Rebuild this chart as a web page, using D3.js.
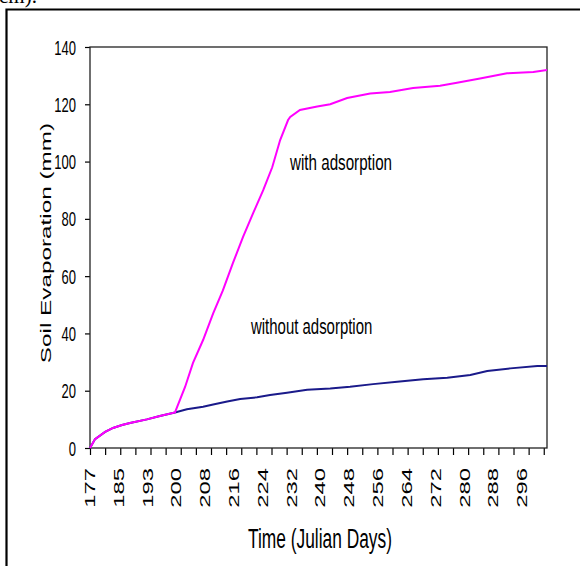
<!DOCTYPE html>
<html>
<head>
<meta charset="utf-8">
<script src="https://cdn.jsdelivr.net/npm/d3@7"></script>
<style>
  html, body { margin: 0; padding: 0; background: #fff; }
  svg { display: block; }
  text { font-family: "Liberation Sans", Arial, sans-serif; fill: #000; }
</style>
</head>
<body>
<svg id="chart" width="580" height="566"></svg>
<script>
(function () {
    'use strict';

    const WIDTH = 580;
    const HEIGHT = 566;

    // day labels on the category axis, one every 8 observations
    const dayLabels = [177, 185, 193, 200, 208, 216, 224, 232, 240, 248, 256, 264, 272, 280, 288, 296];
    const labelStep = 8;
    const tickStep = 4.2;
    const yTicks = [0, 20, 40, 60, 80, 100, 120, 140];

    // observation index, cumulative evaporation (mm)
    const shared = [
        [0, 0], [1.4, 3.1], [4.2, 5.6], [6.4, 7], [8.9, 8], [11.1, 8.7],
        [15.8, 10], [19.4, 11.2], [23.6, 12.4]
    ];
    const withAdsorption = [
        [26.4, 21.3], [28.6, 29.7], [31.4, 37.7], [34.2, 47], [36.9, 55],
        [39.7, 64.6], [42.5, 73.7], [45.3, 82], [48.1, 90], [50.6, 98],
        [52.8, 107.5], [55, 114.5], [55.6, 115.6], [58.3, 118], [63.1, 119.2],
        [66.7, 120], [71.4, 122.2], [77.8, 123.8], [83.3, 124.3], [89.7, 125.7],
        [97.2, 126.5], [101.9, 127.5], [108.3, 129], [115.8, 130.8], [123.1, 131.3],
        [126.9, 132]
    ];
    const withoutAdsorption = [
        [26.9, 13.5], [31.4, 14.4], [34.2, 15.2], [38.1, 16.2], [41.7, 17.1],
        [46.4, 17.7], [50, 18.5], [54.7, 19.3], [60.3, 20.3], [66.7, 20.8],
        [72.2, 21.4], [78.6, 22.3], [85.3, 23.1], [92.5, 24], [99.2, 24.5],
        [105.6, 25.5], [110.3, 26.9], [116.7, 27.8], [124.2, 28.6], [126.9, 28.6]
    ];

    const margin = {top: 47, right: 33, bottom: 118, left: 90};

    let svg = d3.select('#chart');

    let x = d3.scaleLinear()
        .domain([0, 126.9])
        .range([margin.left, WIDTH - margin.right]);

    let y = d3.scaleLinear()
        .domain([0, 140])
        .range([HEIGHT - margin.bottom, margin.top]);

    function drawFrame() {
        // page frame around the figure
        svg.append('path')
            .attr('d', 'M6.5,566V9.5H580')
            .attr('fill', 'none')
            .attr('stroke', '#000')
            .attr('stroke-width', 2.2);

        svg.append('text')
            .attr('x', -1)
            .attr('y', 3)
            .style('font-family', '"Liberation Serif", "Times New Roman", serif')
            .style('font-size', '21px')
            .text('cm).');
    }

    function drawAxes() {
        let yAxis = d3.axisLeft(y)
            .tickValues(yTicks)
            .tickSize(5)
            .tickFormat('');

        svg.append('g')
            .attr('transform', `translate(${margin.left},0)`)
            .call(yAxis)
            .call(g => g.select('.domain').remove())
            .call(g => g.selectAll('line').attr('stroke', '#000').attr('stroke-width', 1.2));

        let xAxis = d3.axisBottom(x)
            .tickValues(d3.range(0, 127, tickStep))
            .tickSize(7)
            .tickFormat('');

        svg.append('g')
            .attr('transform', `translate(0,${y(0)})`)
            .call(xAxis)
            .call(g => g.select('.domain').remove())
            .call(g => g.selectAll('line').attr('stroke', '#000').attr('stroke-width', 1.2));

        // plot box
        svg.append('rect')
            .attr('x', x(0))
            .attr('y', y(140))
            .attr('width', x(126.9) - x(0))
            .attr('height', y(0) - y(140))
            .attr('fill', 'none')
            .attr('stroke', '#222')
            .attr('stroke-width', 1.3);

        // y tick labels (narrow, tall glyphs as in the source)
        svg.append('g')
            .selectAll('text')
            .data(yTicks)
            .join('text')
            .attr('transform', d => `translate(76,${y(d) + 7.5}) scale(0.62,1)`)
            .attr('text-anchor', 'end')
            .style('font-size', '21px')
            .text(d => d);

        // x tick labels, rotated
        svg.append('g')
            .selectAll('text')
            .data(dayLabels)
            .join('text')
            .attr('transform', (d, i) => `translate(${x(i * labelStep) + 5},468) rotate(-90) scale(1.7,1)`)
            .attr('text-anchor', 'end')
            .style('font-size', '14px')
            .text(d => d);

        svg.append('text')
            .attr('transform', `translate(320,548) scale(0.62,1)`)
            .attr('text-anchor', 'middle')
            .style('font-size', '28px')
            .text('Time (Julian Days)');

        svg.append('text')
            .attr('transform', `translate(51,243) rotate(-90) scale(1.62,1)`)
            .attr('text-anchor', 'middle')
            .style('font-size', '15px')
            .text('Soil Evaporation (mm)');
    }

    function drawLines() {
        let line = d3.line()
            .x(d => x(d[0]))
            .y(d => y(d[1]));

        svg.append('path')
            .datum(shared.concat(withoutAdsorption))
            .attr('fill', 'none')
            .attr('stroke', '#1a1a8a')
            .attr('stroke-width', 2)
            .attr('d', line);

        svg.append('path')
            .datum(shared.concat(withAdsorption))
            .attr('fill', 'none')
            .attr('stroke', '#ff00ff')
            .attr('stroke-width', 2)
            .attr('d', line);

        svg.append('text')
            .attr('transform', `translate(290,170) scale(0.69,1)`)
            .style('font-size', '22px')
            .text('with adsorption');

        svg.append('text')
            .attr('transform', `translate(251,334) scale(0.68,1)`)
            .style('font-size', '22px')
            .text('without adsorption');
    }

    drawFrame();
    drawAxes();
    drawLines();
})();
</script>
</body>
</html>
